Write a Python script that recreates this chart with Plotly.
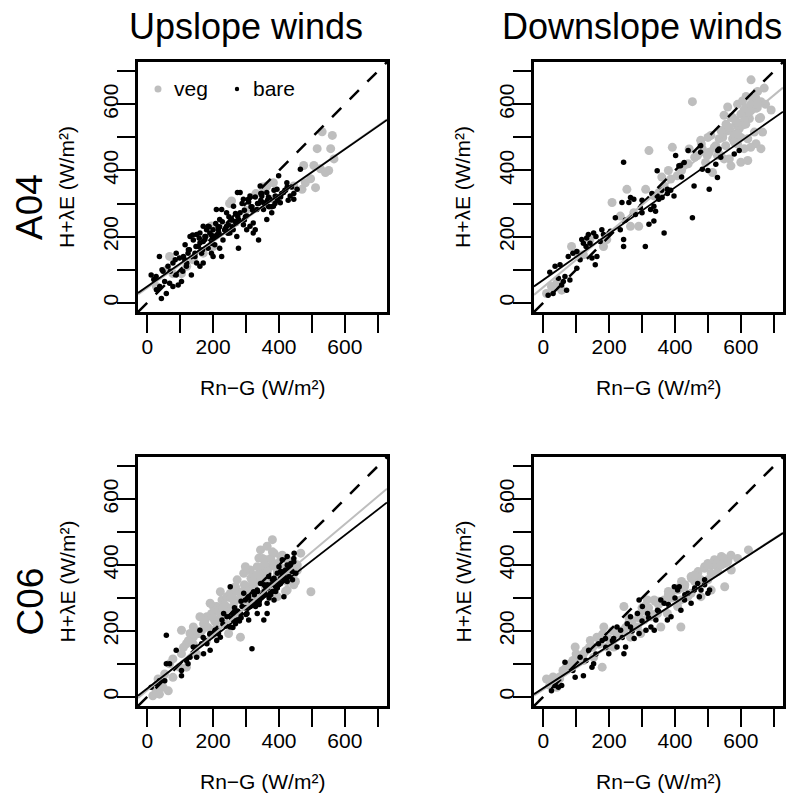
import plotly.graph_objects as go

# ---------------- data ----------------
# Panel A04 upslope
a04_up_bare_x = [12,37,27,48,43,58,68,63,78,88,98,104,94,78,108,119,124,130,140,150,160,145,134,160,170,165,175,180,185,190,200,210,205,195,200,220,226,230,220,226,241,251,261,256,272,277,282,282,302,307,312,322,328,333,338,343,348,353,363,363,373,378,383,394,404,414,424,434,445,455,465,38,28,53,88,114,150,185,216,246,267,292,302,322,353,368,389,399,312,292,274,262,241,210,170,160,
                 20,45,70,85,110,125,155,175,195,215,235,255,275,295,315,335,345,365,385,405,425,445,
                 115,128,138,148,158,168,178,188,198,208,218,228,238,248,258,268,278,288,298,308,318,328,338,348,358,368,378,388,398,408,418,428,438,
                 120,145,170,195,220,245,270,295,320,345,370,395,420]
a04_up_bare_y = [84,140,79,95,13,28,59,110,120,150,135,64,54,49,95,110,150,200,190,206,181,150,84,110,120,150,191,221,231,211,221,200,175,150,140,165,140,190,252,282,231,211,221,252,200,165,272,333,262,313,231,241,221,282,190,353,323,302,333,252,313,272,292,343,302,333,363,323,313,343,404,49,39,64,84,130,120,165,221,236,246,236,221,211,282,292,323,384,323,313,333,292,272,282,231,211,
                 70,100,95,130,140,160,170,200,205,230,220,250,260,280,290,300,330,310,340,320,350,330,
                 175,160,205,170,195,160,200,230,195,240,210,245,225,260,230,270,250,300,260,305,290,320,300,330,300,320,290,300,320,330,340,310,350,
                 120,140,185,180,230,210,240,250,280,310,290,310,340]
a04_up_veg_x = [28,68,78,104,140,200,195,256,261,363,383,445,470,475,480,496,511,516,526,531,541,551,557,562,567,506,383,330,300,250,170,120,60,350]
a04_up_veg_y = [49,140,88,88,130,170,232,308,241,353,363,353,343,415,363,375,348,466,405,517,394,400,466,506,435,415,313,330,280,300,150,110,100,350]

# Panel A04 downslope
a04_dn_bare_x = [15,30,20,36,51,46,61,66,71,56,81,76,102,102,112,117,122,132,137,142,153,148,158,163,173,178,183,204,219,234,244,244,239,260,265,275,280,295,300,310,321,326,336,336,341,346,346,351,361,367,377,397,402,412,417,428,453,458,478,478,483,504,524,529,534,539,580,595,244,377,387,
                 90,130,160,200,250,300,330,360,420,440,500,530]
a04_dn_bare_y = [23,28,92,110,115,74,64,79,38,54,69,140,155,104,130,191,180,196,206,180,211,135,115,140,185,221,206,216,257,221,191,170,303,303,318,313,267,287,272,170,237,282,292,247,277,323,399,313,318,211,343,323,445,414,414,424,257,353,475,455,404,343,419,379,465,440,450,460,425,330,340,
                 150,170,200,210,250,310,330,340,380,460,400,460]
a04_dn_veg_x = [10,25,41,56,86,102,122,142,183,193,209,234,254,265,275,290,311,321,336,351,367,387,392,407,422,443,453,468,483,493,504,509,514,524,534,539,549,554,560,565,570,575,580,585,590,595,605,610,616,621,626,631,636,641,646,651,656,661,666,671,692,600,621,549,529,478,498,580,610,646,661,
                560,575,590,605,620,635,650,600,615,630,545,520,500,
                540,555,570,585,600,615,630,645,660,675,520,545,565,590,610,630,650,440,460,480,420,380,360]
a04_dn_veg_y = [28,49,59,38,170,150,145,191,170,191,303,262,343,231,272,231,343,460,323,333,353,374,470,384,414,465,608,445,465,424,455,506,394,475,496,445,567,475,592,435,414,496,511,541,480,526,537,583,624,496,557,674,618,516,588,639,557,608,516,649,583,425,430,435,445,491,445,486,466,481,466,
                520,560,600,610,560,600,590,500,540,470,520,470,500,
                520,540,560,550,570,590,600,620,560,600,470,500,530,510,550,580,600,420,440,480,400,400,380]

# Panel C06 upslope
c06_up_bare_x = [12,27,37,53,58,68,58,88,104,104,119,124,130,150,160,165,176,181,191,201,206,211,216,222,227,232,242,252,252,262,268,273,283,288,293,298,303,308,313,318,323,329,334,339,344,349,354,359,364,369,374,380,385,390,395,400,405,410,415,420,425,431,436,441,446,451,415,308,334,364,191,171,140,
                 345,355,365,375,385,395,405,415,425,435,445,330,340,350,370,390,410,430,275,285,300,240,260,215,
                 255,265,275,285,295,305,315,325,335,345,355,365,375,385,395,405,415,425,435,445,260,280,300,320,340,360,380,400,420,440,150,170,190,210,230]
c06_up_bare_y = [29,39,49,49,100,100,187,141,64,80,110,100,120,120,202,161,171,161,192,192,202,171,192,181,233,253,243,334,212,253,222,233,253,274,314,294,253,233,274,146,319,274,324,294,344,304,233,334,284,365,314,355,294,334,375,395,344,416,355,385,426,365,405,355,436,375,304,304,253,253,141,131,151,
                 300,320,340,310,350,330,360,380,350,400,420,290,280,310,300,320,370,390,260,240,270,215,235,200,
                 240,270,260,290,270,300,290,310,320,300,340,330,340,360,350,380,370,400,390,410,210,230,250,280,290,310,320,340,360,380,150,180,190,200,220]
c06_up_veg_x = [17,27,37,48,33,53,68,78,98,104,119,130,140,155,171,181,196,201,211,216,227,242,252,262,268,273,283,293,303,313,323,334,339,344,354,359,364,374,380,385,395,405,415,425,436,446,456,466,497,298,323,354,395,425,262,211,160,247,283,119,78,48,64,104,140,160,191,222,237,262,303,334,359,
                350,365,380,395,410,425,440,455,320,340,360,380,400,
                110,125,140,150,165,175,185,195,205,215,225,235,245,255,265,275,285,295,305,315,325,335,345,355,365,375,385,395,405,415,425,435,445,455,
                150,180,210,240,270,300,330,360,390,420,450,200,230,260,290,320,350,380,410,440]
c06_up_veg_y = [3,18,8,29,54,69,100,115,90,131,161,192,181,192,222,243,253,274,274,233,294,304,314,274,334,355,294,375,334,385,355,395,421,446,375,416,457,395,477,436,405,426,385,416,355,375,385,436,319,395,334,314,304,324,243,192,192,192,181,90,59,49,18,202,212,243,284,319,263,294,274,314,334,
                380,360,400,370,390,360,380,400,370,350,390,330,350,
                150,170,160,200,200,230,210,250,230,260,250,280,270,300,290,320,310,340,320,360,350,370,360,400,380,420,400,380,360,370,350,360,340,400,
                130,170,210,220,250,280,300,330,340,320,350,240,270,300,320,350,420,440,430,390]

# Panel C06 downslope
c06_dn_bare_x = [25,36,46,56,66,97,112,122,138,148,153,168,179,189,199,214,224,235,245,250,255,265,276,286,291,301,312,317,327,337,342,347,357,367,377,388,398,408,413,418,429,439,449,459,469,474,479,490,500,505,291,265,224,
                 90,130,160,190,210,240,270,300,320,350,380,400,430,460,490]
c06_dn_bare_y = [18,34,29,34,105,59,120,64,141,90,100,161,171,177,131,177,151,202,131,151,222,212,177,253,192,274,202,253,212,202,233,263,294,284,233,243,334,324,334,263,294,314,284,324,344,304,324,355,314,324,294,243,212,
                 80,110,130,150,170,180,200,230,240,260,280,300,310,330,340]
c06_dn_veg_x = [10,31,41,61,82,97,107,122,143,153,163,179,194,204,224,245,265,286,306,316,327,347,357,367,388,408,418,429,439,449,459,469,479,490,500,510,520,531,541,551,561,623,571,408,306,245,184,265,122,479,510,449,551,500,418,377,337,296,214,
                20,50,70,110,130,170,200,230,260,290,320,350,380,420,460,530,560,590,
                30,50,70,90,110,130,150,170,190,210,230,250,270,290,310,330,350,370,390,410,430,450,470,490,510,530,550,570,
                60,100,140,180,220,260,300,340,380,420,460,500,540]
c06_dn_veg_y = [54,49,29,74,100,151,120,110,171,120,181,90,151,171,192,202,233,212,274,294,243,253,212,294,314,274,212,334,304,365,355,375,355,395,405,375,416,395,426,334,416,446,385,324,233,274,212,181,130,304,324,314,405,355,294,253,294,192,151,
                 35,60,80,110,140,160,175,200,225,250,270,290,310,330,350,380,410,420,
                 60,55,90,110,120,140,150,160,180,200,190,210,230,240,260,250,280,290,300,330,340,360,380,390,400,410,420,430,
                 80,130,150,190,200,240,270,290,320,350,370,400,400]

# regression lines (intercept, slope), per panel
fit_veg = {"A04_up": (45, 0.70), "A04_dn": (47, 0.829), "C06_up": (20, 0.84), "C06_dn": (22, 0.655)}
fit_bare = {"A04_up": (49, 0.692), "A04_dn": (69, 0.699), "C06_up": (25, 0.776), "C06_dn": (26, 0.647)}

tick_vals = [0, 100, 200, 300, 400, 500, 600, 700]
tick_text = ["0", "", "200", "", "400", "", "600", ""]
axis_range = [-28, 728]
line_x = [-28, 728]

col_titles = ["Upslope winds", "Downslope winds"]
row_titles = ["A04", "C06"]
x_title = "Rn\u2212G (W/m\u00b2)"
y_title = "H+\u03bbE (W/m\u00b2)"

GRAY = "#BEBEBE"
FONT = "Liberation Sans, Arial, Helvetica, sans-serif"
W, H = 787, 797

panels = [
    ("A04_up", a04_up_veg_x, a04_up_veg_y, a04_up_bare_x, a04_up_bare_y),
    ("A04_dn", a04_dn_veg_x, a04_dn_veg_y, a04_dn_bare_x, a04_dn_bare_y),
    ("C06_up", c06_up_veg_x, c06_up_veg_y, c06_up_bare_x, c06_up_bare_y),
    ("C06_dn", c06_dn_veg_x, c06_dn_veg_y, c06_dn_bare_x, c06_dn_bare_y),
]

# pixel boxes (left, right, top, bottom)
boxes = [(138, 387, 62, 312), (534, 783, 62, 312), (138, 387, 457, 706), (534, 783, 457, 706)]

fig = go.Figure()
layout = {}
for i, ((key, vx, vy, bx, by), (l, r, t, b)) in enumerate(zip(panels, boxes)):
    n = "" if i == 0 else str(i + 1)
    xa, ya = "x" + n, "y" + n
    fig.add_trace(go.Scatter(x=vx, y=vy, mode="markers", xaxis=xa, yaxis=ya,
                             marker=dict(color=GRAY, size=9, line=dict(width=0)), showlegend=False))
    fig.add_trace(go.Scatter(x=bx, y=by, mode="markers", xaxis=xa, yaxis=ya,
                             marker=dict(color="black", size=5.5, line=dict(width=0)), showlegend=False))
    # 1:1 line
    fig.add_trace(go.Scatter(x=line_x, y=line_x, mode="lines", xaxis=xa, yaxis=ya,
                             line=dict(color="black", width=2.5, dash="13px,12px"), showlegend=False))
    a, s = fit_veg[key]
    fig.add_trace(go.Scatter(x=line_x, y=[a + s * v for v in line_x], mode="lines", xaxis=xa, yaxis=ya,
                             line=dict(color=GRAY, width=2), showlegend=False))
    a, s = fit_bare[key]
    fig.add_trace(go.Scatter(x=line_x, y=[a + s * v for v in line_x], mode="lines", xaxis=xa, yaxis=ya,
                             line=dict(color="black", width=1.8), showlegend=False))
    common = dict(range=axis_range, showgrid=False, zeroline=False, showline=True, mirror=True,
                  linecolor="black", linewidth=2.5, ticks="outside", ticklen=18, tickwidth=2.2,
                  tickcolor="black", tickvals=tick_vals, ticktext=tick_text,
                  tickfont=dict(family=FONT, size=21, color="black"))
    layout["xaxis" + n] = dict(domain=[l / W, r / W], anchor=ya, ticklabelstandoff=-4, **common)
    layout["yaxis" + n] = dict(domain=[1 - b / H, 1 - t / H], anchor=xa, tickangle=-90,
                               ticklabelstandoff=-9, **common)

annotations = []
shapes = []
for i, (l, r, t, b) in enumerate(boxes):
    cx = (l + r) / 2
    cy = (t + b) / 2
    annotations.append(dict(x=cx / W, y=1 - (b + 75) / H, xref="paper", yref="paper", text=x_title,
                            showarrow=False, font=dict(family=FONT, size=21, color="black"),
                            xanchor="center", yanchor="middle"))
    annotations.append(dict(x=(l - 71) / W, y=1 - cy / H, xref="paper", yref="paper", text=y_title,
                            textangle=-90, showarrow=False, font=dict(family=FONT, size=21, color="black"),
                            xanchor="center", yanchor="middle"))
title_cx = [246, 642]
for j, txt in enumerate(col_titles):
    annotations.append(dict(x=title_cx[j] / W, y=1 - 27 / H, xref="paper", yref="paper",
                            text=txt, showarrow=False, font=dict(family=FONT, size=36, color="black"),
                            xanchor="center", yanchor="middle"))
for k, txt in enumerate(row_titles):
    l, r, t, b = boxes[2 * k]
    annotations.append(dict(x=30 / W, y=1 - ((t + b) / 2 + 20) / H, xref="paper", yref="paper",
                            text=txt, textangle=-90, showarrow=False,
                            font=dict(family=FONT, size=37, color="black"),
                            xanchor="center", yanchor="middle"))

# legend in first panel
annotations.append(dict(x=172 / W, y=1 - 89 / H, xref="paper", yref="paper", text="veg", showarrow=False,
                        font=dict(family=FONT, size=21, color="black"), xanchor="left", yanchor="middle"))
annotations.append(dict(x=251 / W, y=1 - 89 / H, xref="paper", yref="paper", text="bare", showarrow=False,
                        font=dict(family=FONT, size=21, color="black"), xanchor="left", yanchor="middle"))
for (px, rad, col) in [(158, 3.5, GRAY), (237, 2.2, "black")]:
    shapes.append(dict(type="circle", xref="paper", yref="paper",
                       x0=(px - rad) / W, x1=(px + rad) / W, y0=1 - (89 + rad) / H, y1=1 - (89 - rad) / H,
                       fillcolor=col, line=dict(width=0)))

fig.update_layout(width=W, height=H, margin=dict(l=0, r=0, t=0, b=0),
                  paper_bgcolor="white", plot_bgcolor="white",
                  annotations=annotations, shapes=shapes, showlegend=False, **layout)
fig.write_html("out.html")
